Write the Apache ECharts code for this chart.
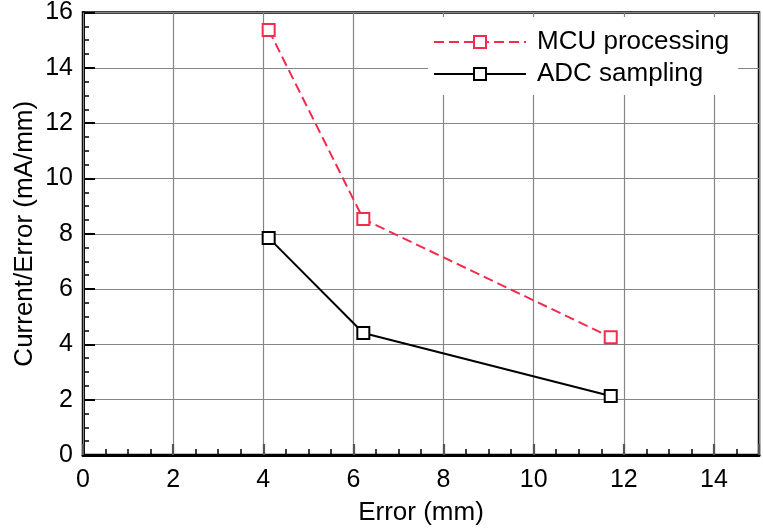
<!DOCTYPE html>
<html>
<head>
<meta charset="utf-8">
<script src="https://cdn.jsdelivr.net/npm/echarts@6/dist/echarts.min.js"></script>
<style>
  html, body { margin: 0; padding: 0; background: #fff; }
  #chart { width: 763px; height: 532px; }
</style>
</head>
<body>
<div id="chart"></div>
<script>
// Error (mm) at each operating point
const errorMm = [4.12, 6.22, 11.71];
// Current per unit error (mA/mm)
const mcuProcessing = [15.37, 8.53, 4.26];
const adcSampling = [7.85, 4.41, 2.13];
const seriesNames = ['MCU processing', 'ADC sampling'];
const xTicks = [0, 2, 4, 6, 8, 10, 12, 14];

const FONT = '"Liberation Sans", Arial, Helvetica, sans-serif';
const RED = '#f22b4f';

// minor tick positions on the Error axis (every 0.5 mm, skipping major ticks)
const minorX = [];
for (let i = 1; i < 30; i++) {
  if (i % 4 !== 0) minorX.push(i * 0.5);
}

const pairs = (xs, ys) => xs.map((x, i) => [x, ys[i]]);

const chart = echarts.init(document.getElementById('chart'), null, { renderer: 'canvas' });
chart.setOption({
  animation: false,
  backgroundColor: '#fff',
  grid: {
    left: 83, right: 4, top: 12, bottom: 77,
    show: true, borderColor: '#000', borderWidth: 2.5,
    backgroundColor: 'transparent'
  },
  legend: {
    orient: 'vertical',
    left: 428, top: 17,
    padding: [11, 9, 7, 5],
    backgroundColor: '#fff',
    itemWidth: 92, itemHeight: 15, itemGap: 4,
    textStyle: { fontFamily: FONT, fontSize: 26, color: '#000', lineHeight: 28, padding: [0, 0, 0, 6] },
    data: seriesNames
  },
  xAxis: [
    {
      type: 'value', min: 0, max: 15, interval: 2,
      name: 'Error (mm)', nameLocation: 'middle', nameGap: 45,
      nameTextStyle: { fontFamily: FONT, fontSize: 26, color: '#000' },
      axisLine: { show: true, onZero: false, lineStyle: { color: '#000', width: 3 } },
      axisTick: { show: true, inside: true, length: 11, lineStyle: { color: '#555', width: 2.2 } },
      axisLabel: {
        fontFamily: FONT, fontSize: 25, color: '#000', margin: 13,
        customValues: xTicks
      },
      splitLine: { show: true, lineStyle: { color: '#858585', width: 1.2 } },
      z: 3
    },
    {
      type: 'value', min: 0, max: 15, position: 'bottom',
      axisLine: { show: false },
      axisLabel: { show: false },
      splitLine: { show: false },
      axisTick: {
        show: true, inside: true, length: 6,
        customValues: minorX,
        lineStyle: { color: '#000', width: 1.5 }
      }
    }
  ],
  yAxis: {
    type: 'value', min: 0, max: 16, interval: 2,
    name: 'Current/Error (mA/mm)', nameLocation: 'middle', nameGap: 45,
    nameMoveOverlap: false,
    nameTextStyle: { fontFamily: FONT, fontSize: 26, color: '#000' },
    axisLine: { show: true, onZero: false, lineStyle: { color: '#000', width: 3 } },
    axisTick: { show: true, inside: true, length: 12, lineStyle: { color: '#000', width: 2 } },
    minorTick: { show: true, splitNumber: 4, length: 6, lineStyle: { color: '#000', width: 1.5 } },
    axisLabel: { fontFamily: FONT, fontSize: 25, color: '#000', margin: 10 },
    splitLine: { show: true, lineStyle: { color: '#858585', width: 1.2 } },
    minorSplitLine: { show: false }
  },
  series: [
    {
      name: seriesNames[0], type: 'line', xAxisIndex: 0,
      data: pairs(errorMm, mcuProcessing),
      symbol: 'rect', symbolSize: 12,
      lineStyle: { color: RED, width: 2, type: [10, 5] },
      itemStyle: { color: '#fff', borderColor: RED, borderWidth: 2 },
      z: 4
    },
    {
      name: seriesNames[1], type: 'line', xAxisIndex: 0,
      data: pairs(errorMm, adcSampling),
      symbol: 'rect', symbolSize: 12,
      lineStyle: { color: '#000', width: 2 },
      itemStyle: { color: '#fff', borderColor: '#000', borderWidth: 2 },
      z: 4
    }
  ]
});
</script>
</body>
</html>
